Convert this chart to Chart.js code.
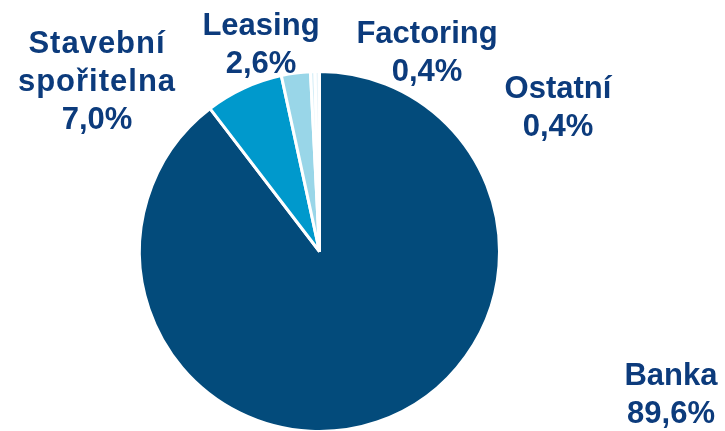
<!DOCTYPE html>
<html>
<head>
<meta charset="utf-8">
<script src="https://cdn.jsdelivr.net/npm/chart.js@4.4.1/dist/chart.umd.min.js"></script>
<style>
html,body{margin:0;padding:0;background:#fff;overflow:hidden;width:725px;height:431px;}
#wrap{position:absolute;left:0;top:0;width:725px;height:504px;}
</style>
</head>
<body>
<div id="wrap"><canvas id="c" width="725" height="504"></canvas></div>
<script>
const categories = ["Banka", "Stavební spořitelna", "Leasing", "Factoring", "Ostatní"];
const values = [89.6, 7.0, 2.6, 0.4, 0.4];
const valueLabels = ["89,6%", "7,0%", "2,6%", "0,4%", "0,4%"];
const labelLines = [["Banka"], ["Stavební", "spořitelna"], ["Leasing"], ["Factoring"], ["Ostatní"]];
const colors = ["#034B7B", "#0099CC", "#99D6E8", "#D6EEF7", "#EAF6FB"];

// label anchor positions (center x, first baseline y) and letter spacing
const labelPos = [
  {x: 671, y: 385, ls: 0},
  {x: 97, y: 53, ls: 1},
  {x: 261, y: 35, ls: 0},
  {x: 427, y: 43, ls: 0},
  {x: 558, y: 98, ls: 0}
];

const labelPlugin = {
  id: 'sliceLabels',
  afterDraw(chart) {
    const ctx = chart.ctx;
    ctx.save();
    ctx.fillStyle = '#0C3B7C';
    ctx.font = 'bold 31px "Liberation Sans", Arial, sans-serif';
    ctx.textAlign = 'center';
    ctx.textBaseline = 'alphabetic';
    const step = 38;
    labelLines.forEach((lines, i) => {
      const p = labelPos[i];
      lines.forEach((t, j) => {
        ctx.letterSpacing = p.ls + 'px';
        ctx.fillText(t, p.x, p.y + j * step);
      });
      ctx.letterSpacing = '0px';
      ctx.fillText(valueLabels[i], p.x, p.y + lines.length * step);
    });
    ctx.restore();
  }
};

new Chart(document.getElementById('c'), {
  type: 'pie',
  data: {
    labels: categories,
    datasets: [{
      data: values,
      backgroundColor: colors,
      borderColor: '#ffffff',
      borderWidth: 3
    }]
  },
  options: {
    responsive: false,
    animation: false,
    layout: {padding: {left: 138, right: 224, top: 70, bottom: 71}},
    plugins: {legend: {display: false}, tooltip: {enabled: false}}
  },
  plugins: [labelPlugin]
});
</script>
</body>
</html>
